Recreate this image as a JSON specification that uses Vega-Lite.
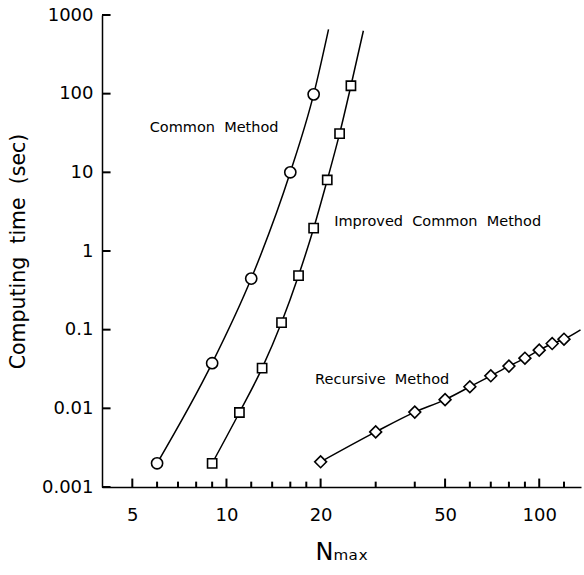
{
  "$schema": "https://vega.github.io/schema/vega-lite/v6.json",
  "autosize": "none",
  "width": 479,
  "height": 472,
  "padding": {"left": 102, "top": 15, "right": 3, "bottom": 88},
  "background": "white",
  "config": {
    "view": {"stroke": null},
    "font": "DejaVu Sans",
    "axis": {"grid": false, "ticks": false, "domainColor": "black", "domainWidth": 1.5, "labelColor": "black", "titleColor": "black", "labelFont": "DejaVu Sans", "titleFont": "DejaVu Sans", "labelFontSize": 18, "titleFontWeight": "normal"}
  },
  "datasets": {
    "pts": [
      {"m": "Common", "N": 6, "t": 0.002, "k": "p"},
      {"m": "Common", "N": 9, "t": 0.0375, "k": "p"},
      {"m": "Common", "N": 12, "t": 0.446, "k": "p"},
      {"m": "Common", "N": 16, "t": 10, "k": "p"},
      {"m": "Common", "N": 19, "t": 98, "k": "p"},
      {"m": "Common", "N": 21.2, "t": 658, "k": "e"},
      {"m": "Improved", "N": 9, "t": 0.002, "k": "p"},
      {"m": "Improved", "N": 11, "t": 0.00885, "k": "p"},
      {"m": "Improved", "N": 13, "t": 0.0324, "k": "p"},
      {"m": "Improved", "N": 15, "t": 0.123, "k": "p"},
      {"m": "Improved", "N": 17, "t": 0.487, "k": "p"},
      {"m": "Improved", "N": 19, "t": 1.95, "k": "p"},
      {"m": "Improved", "N": 21, "t": 8.0, "k": "p"},
      {"m": "Improved", "N": 23, "t": 31, "k": "p"},
      {"m": "Improved", "N": 25, "t": 126, "k": "p"},
      {"m": "Improved", "N": 27.4, "t": 631, "k": "e"},
      {"m": "Recursive", "N": 20, "t": 0.00209, "k": "p"},
      {"m": "Recursive", "N": 30, "t": 0.00502, "k": "p"},
      {"m": "Recursive", "N": 40, "t": 0.00895, "k": "p"},
      {"m": "Recursive", "N": 50, "t": 0.0129, "k": "p"},
      {"m": "Recursive", "N": 60, "t": 0.0188, "k": "p"},
      {"m": "Recursive", "N": 70, "t": 0.0259, "k": "p"},
      {"m": "Recursive", "N": 80, "t": 0.0344, "k": "p"},
      {"m": "Recursive", "N": 90, "t": 0.0434, "k": "p"},
      {"m": "Recursive", "N": 100, "t": 0.0549, "k": "p"},
      {"m": "Recursive", "N": 110, "t": 0.0666, "k": "p"},
      {"m": "Recursive", "N": 120, "t": 0.0757, "k": "p"},
      {"m": "Recursive", "N": 135.5, "t": 0.0994, "k": "e"}
    ],
    "labels": [
      {"x": 5.68, "y": 36.6, "text": "Common\u00a0\u00a0Method"},
      {"x": 22.1, "y": 2.37, "text": "Improved\u00a0\u00a0Common\u00a0\u00a0Method"},
      {"x": 19.2, "y": 0.023, "text": "Recursive\u00a0\u00a0Method"}
    ],
    "xticks": [
      {"v": 5, "major": true}, {"v": 6, "major": false}, {"v": 7, "major": false}, {"v": 8, "major": false}, {"v": 9, "major": false},
      {"v": 10, "major": true}, {"v": 12, "major": false}, {"v": 14, "major": false}, {"v": 16, "major": false}, {"v": 18, "major": false},
      {"v": 20, "major": true}, {"v": 30, "major": false}, {"v": 40, "major": false}, {"v": 50, "major": true},
      {"v": 60, "major": false}, {"v": 70, "major": false}, {"v": 80, "major": false}, {"v": 90, "major": false},
      {"v": 100, "major": true}, {"v": 120, "major": false}
    ],
    "yticks": [
      {"v": 0.001}, {"v": 0.01}, {"v": 0.1}, {"v": 1}, {"v": 10}, {"v": 100}, {"v": 1000}
    ]
  },
  "resolve": {"axis": {"x": "independent", "y": "independent"}},
  "layer": [
    {
      "data": {"name": "pts"},
      "mark": {"type": "line", "interpolate": "monotone", "color": "black", "strokeWidth": 1.5},
      "encoding": {
        "x": {
          "field": "N", "type": "quantitative",
          "scale": {"type": "log", "domain": [4, 136], "nice": false},
          "axis": {
            "orient": "bottom",
            "title": "N\u2098\u2090\u2093",
            "titleFontSize": 24,
            "titlePadding": 16,
            "values": [5, 10, 20, 50, 100],
            "labelExpr": "format(datum.value, 'd')",
            "ticks": false,
            "labelPadding": 19,
            "labelFlush": false,
            "labelOverlap": false
          }
        },
        "y": {
          "field": "t", "type": "quantitative",
          "scale": {"type": "log", "domain": [0.001, 1000], "nice": false},
          "axis": {
            "orient": "left",
            "title": "Computing\u00a0\u00a0time\u00a0\u00a0(sec)",
            "titleFontSize": 20.5,
            "titlePadding": 13,
            "values": [0.001, 0.01, 0.1, 1, 10, 100, 1000],
            "labelExpr": "datum.value < 0.005 ? '0.001' : datum.value < 0.05 ? '0.01' : datum.value < 0.5 ? '0.1' : format(datum.value, 'd')",
            "ticks": false,
            "labelPadding": 9,
            "labelFlush": false,
            "labelOverlap": false
          }
        },
        "detail": {"field": "m"},
        "order": {"field": "N", "type": "quantitative"}
      }
    },
    {
      "data": {"name": "xticks"},
      "transform": [{"filter": "datum.major"}],
      "mark": {"type": "rule", "color": "black", "strokeWidth": 2},
      "encoding": {
        "x": {"field": "v", "type": "quantitative", "axis": null},
        "y": {"datum": 0.001, "type": "quantitative", "axis": null},
        "y2": {"datum": 0.00128}
      }
    },
    {
      "data": {"name": "xticks"},
      "transform": [{"filter": "!datum.major"}],
      "mark": {"type": "rule", "color": "black", "strokeWidth": 2},
      "encoding": {
        "x": {"field": "v", "type": "quantitative", "axis": null},
        "y": {"datum": 0.001, "type": "quantitative", "axis": null},
        "y2": {"datum": 0.00117}
      }
    },
    {
      "data": {"name": "yticks"},
      "mark": {"type": "rule", "color": "black", "strokeWidth": 2},
      "encoding": {
        "y": {"field": "v", "type": "quantitative", "axis": null},
        "x": {"datum": 4, "type": "quantitative", "axis": null},
        "x2": {"datum": 4.26}
      }
    },
    {
      "data": {"name": "pts"},
      "transform": [{"filter": "datum.k == 'p'"}],
      "mark": {"type": "point", "filled": true, "fill": "white", "stroke": "black", "strokeWidth": 1.6, "opacity": 1},
      "encoding": {
        "x": {"field": "N", "type": "quantitative", "axis": null},
        "y": {"field": "t", "type": "quantitative", "axis": null},
        "shape": {"field": "m", "type": "nominal", "scale": {"domain": ["Common", "Improved", "Recursive"], "range": ["circle", "square", "diamond"]}, "legend": null},
        "size": {"field": "m", "type": "nominal", "scale": {"type": "ordinal", "domain": ["Common", "Improved", "Recursive"], "range": [125, 85, 140]}, "legend": null}
      }
    },
    {
      "data": {"name": "labels"},
      "mark": {"type": "text", "align": "left", "baseline": "middle", "fontSize": 14.5, "font": "DejaVu Sans", "color": "black"},
      "encoding": {
        "x": {"field": "x", "type": "quantitative", "axis": null},
        "y": {"field": "y", "type": "quantitative", "axis": null},
        "text": {"field": "text"}
      }
    }
  ]
}
